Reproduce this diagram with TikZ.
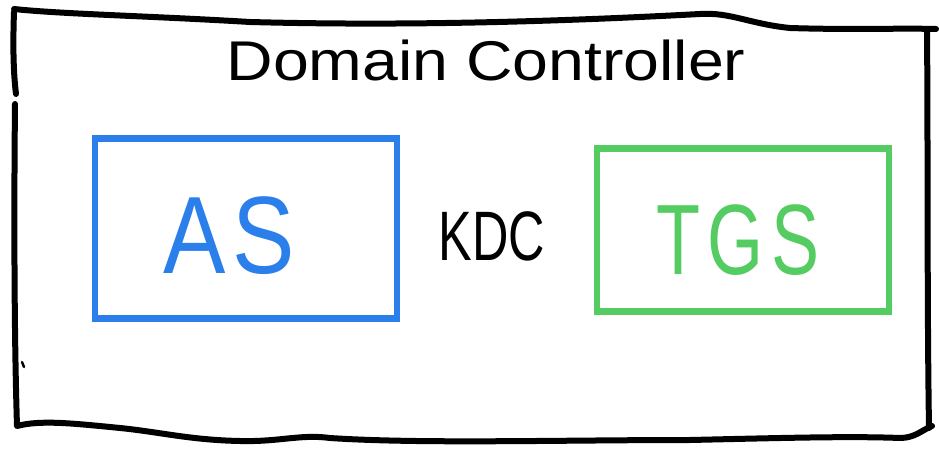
\documentclass[tikz,border=0pt]{standalone}
\usepackage{fontspec}
\setmainfont{Liberation Sans}
\definecolor{asblue}{HTML}{2B7FEA}
\definecolor{tgsgreen}{HTML}{55CC62}
\begin{document}
\begin{tikzpicture}[x=1pt,y=-1pt,
  sketch/.style={line width=6pt,line cap=round,line join=round},
  boxnode/.style={draw,rectangle,line width=6.5pt,inner sep=0pt},
  label/.style={inner sep=0pt,anchor=center}]
\useasboundingbox[fill=white] (0,0) rectangle (939,454);
% outer frame (hand drawn)
\draw[sketch,black] (14,9) .. controls (60,14) and (150,16) .. (250,22)
  .. controls (400,26) and (550,22) .. (700,14)
  .. controls (730,12) and (750,24) .. (790,28)
  .. controls (850,30) and (900,28) .. (936,29);
\draw[sketch,black] (14,12) .. controls (13,40) and (13,70) .. (16,94);
\draw[sketch,black] (15,104) .. controls (14,200) and (14,330) .. (17,426)
  .. controls (40,420) and (70,423) .. (120,428)
  .. controls (160,432) and (190,440) .. (240,441)
  .. controls (280,442) and (300,434) .. (330,438)
  .. controls (420,444) and (560,440) .. (690,440)
  .. controls (780,438) and (850,436) .. (900,438)
  .. controls (915,438) and (922,430) .. (932,426);
\draw[sketch,black] (927,30) .. controls (928,150) and (927,300) .. (929,428);
\draw[line width=2.5pt,line cap=round] (22,362) -- (24,367);
% title
\node[label] (title) at (486,60) {\scalebox{1.15}[1]{\fontsize{56}{60}\selectfont Domain Controller}};
% AS box
\node[boxnode,draw=asblue,minimum width=302pt,minimum height=180pt] (asbox) at (246,228.5) {};
\node[label,text=asblue] (as) at (229,236) {\scalebox{0.85}[1]{\fontsize{110}{120}\selectfont A\hspace{8pt}S}};
% KDC
\node[label] (kdc) at (492,236) {\scalebox{0.72}[1]{\fontsize{70}{80}\selectfont KDC}};
% TGS box
\node[boxnode,draw=tgsgreen,minimum width=292pt,minimum height=163pt] (tgsbox) at (743,230) {};
\node[label,text=tgsgreen] (tgs) at (738,240) {\scalebox{0.72}[1]{\fontsize{100}{110}\selectfont T\hspace{10pt}G\hspace{10pt}S}};
\end{tikzpicture}
\end{document}
